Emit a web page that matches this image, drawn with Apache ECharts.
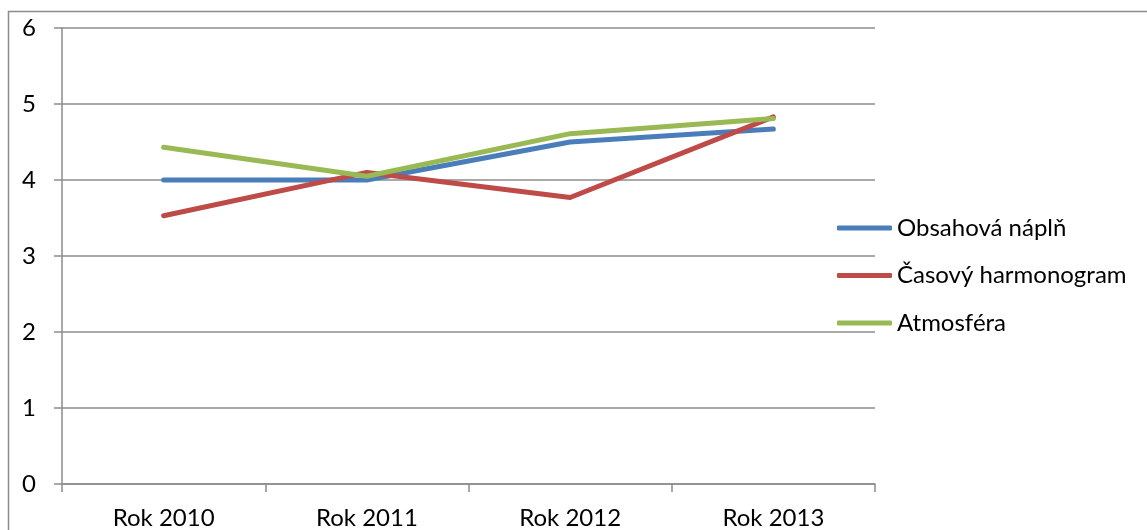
<!DOCTYPE html>
<html>
<head>
<meta charset="utf-8">
<script src="https://cdn.jsdelivr.net/npm/echarts@6/dist/echarts.min.js"></script>
<style>
html, body { margin: 0; padding: 0; background: #fff; }
#main { width: 1147px; height: 530px; }
</style>
</head>
<body>
<div id="main"></div>
<script>
// data
var roky = ['Rok 2010', 'Rok 2011', 'Rok 2012', 'Rok 2013'];
var obsahova = [4.0, 4.0, 4.5, 4.67];
var casovy = [3.53, 4.1, 3.77, 4.83];
var atmosfera = [4.43, 4.05, 4.61, 4.81];

var font = 'Lato, Calibri, sans-serif';
var myChart = echarts.init(document.getElementById('main'));

function linka(name, data, color) {
    return {
        name: name,
        type: 'line',
        data: data,
        symbol: 'none',
        lineStyle: { color: color, width: 5, cap: 'round', join: 'round' },
        itemStyle: { color: color }
    };
}

option = {
    animation: false,
    backgroundColor: '#fff',
    graphic: [{
        type: 'rect',
        shape: { x: 8.5, y: 11.5, width: 1300, height: 700 },
        style: { fill: 'none', stroke: '#8c8c8c', lineWidth: 1.5 },
        silent: true
    }],
    grid: { left: 62, right: 272, top: 28, bottom: 44 },
    legend: {
        orient: 'vertical',
        left: 837,
        top: 216,
        padding: 0,
        icon: 'roundRect',
        itemWidth: 55,
        itemHeight: 5,
        itemGap: 23.5,
        textStyle: { fontFamily: font, fontSize: 24, color: '#000', lineHeight: 24 },
        data: ['Obsahová náplň', 'Časový harmonogram', 'Atmosféra']
    },
    xAxis: {
        type: 'category',
        data: roky,
        boundaryGap: true,
        axisLine: { lineStyle: { color: '#8c8c8c', width: 1.5 } },
        axisTick: { show: true, length: 8, lineStyle: { color: '#8c8c8c', width: 1.5 } },
        axisLabel: { fontFamily: font, fontSize: 24, color: '#000', margin: 22 }
    },
    yAxis: {
        type: 'value',
        min: 0,
        max: 6,
        interval: 1,
        axisLine: { show: true, lineStyle: { color: '#8c8c8c', width: 1.5 } },
        axisTick: { show: true, length: 8, lineStyle: { color: '#8c8c8c', width: 1.5 } },
        splitLine: { lineStyle: { color: '#8c8c8c', width: 1.5 } },
        axisLabel: { fontFamily: font, fontSize: 24, color: '#000', margin: 26 }
    },
    series: [
        linka('Obsahová náplň', obsahova, '#4a7ebb'),
        linka('Časový harmonogram', casovy, '#be4b48'),
        linka('Atmosféra', atmosfera, '#98b954')
    ]
};

myChart.setOption(option, true);
</script>
</body>
</html>
